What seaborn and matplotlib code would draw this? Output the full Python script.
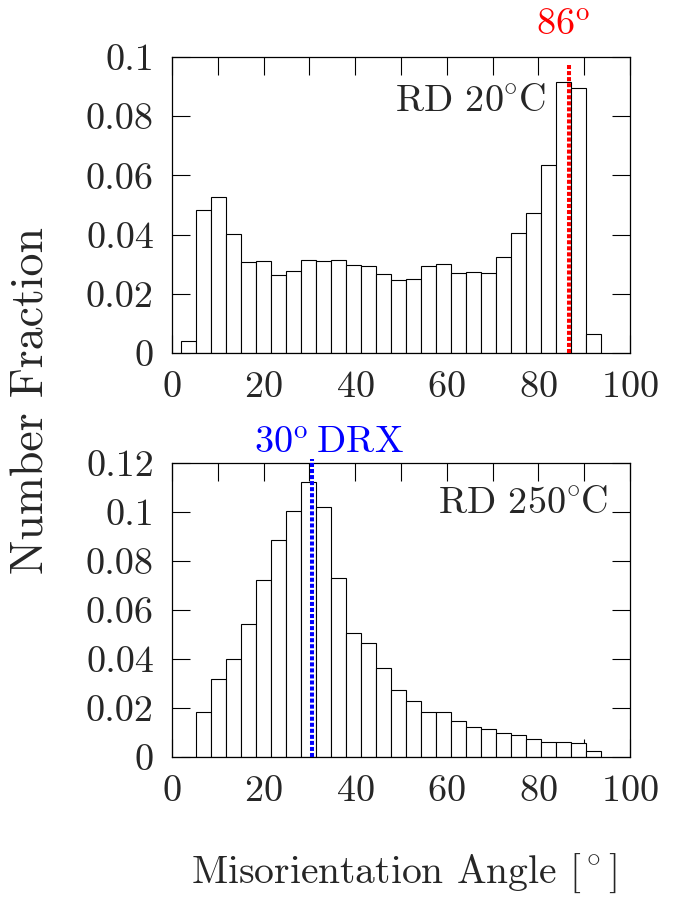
import numpy as np
import pandas as pd
import matplotlib
matplotlib.use("Agg")
import matplotlib.pyplot as plt
import seaborn as sns

# ---- data ----
BIN_START = 1.9
BIN_WIDTH = 3.28
N_BINS = 28

rd20_fraction = [0.0042, 0.0483, 0.0528, 0.0401, 0.0307, 0.0310, 0.0263, 0.0277,
                 0.0313, 0.0311, 0.0313, 0.0297, 0.0293, 0.0266, 0.0246, 0.0251,
                 0.0293, 0.0300, 0.0269, 0.0273, 0.0269, 0.0324, 0.0405, 0.0472,
                 0.0635, 0.0916, 0.0895, 0.0065]
rd250_fraction = [0.0, 0.0182, 0.0318, 0.0399, 0.0543, 0.0721, 0.0886, 0.1003,
                  0.1122, 0.1019, 0.0731, 0.0507, 0.0466, 0.0363, 0.0273, 0.0227,
                  0.0182, 0.0182, 0.0147, 0.0122, 0.0114, 0.0096, 0.0088, 0.0072,
                  0.0060, 0.0060, 0.0056, 0.0023]

x_ticks = [0, 20, 40, 60, 80, 100]
y_ticks_top = [0, 0.02, 0.04, 0.06, 0.08, 0.1]
y_ticks_bot = [0, 0.02, 0.04, 0.06, 0.08, 0.1, 0.12]
y_tick_labels_top = ["0", "0.02", "0.04", "0.06", "0.08", "0.1"]
y_tick_labels_bot = ["0", "0.02", "0.04", "0.06", "0.08", "0.1", "0.12"]

peak_top = 86.7
peak_bot = 30.6
label_top = "RD 20$\\!^\\circ\\!$C"
label_bot = "RD 250$\\!^\\circ\\!$C"
mark_top = "86$^{\\rm o}$"
mark_bot = "30$^{\\rm o}\\!$ DRX"
xlabel = "Misorientation Angle [$^\\circ$]"
ylabel = "Number Fraction"

# ---- style ----
sns.set_style("ticks")
plt.rcParams["font.family"] = ["cmr10", "DejaVu Serif"]
plt.rcParams["mathtext.fontset"] = "cm"
plt.rcParams["axes.formatter.use_mathtext"] = True
plt.rcParams["axes.unicode_minus"] = False

edges = BIN_START + BIN_WIDTH * np.arange(N_BINS + 1)
centers = 0.5 * (edges[:-1] + edges[1:])
df = pd.DataFrame({"angle": centers, "rd20": rd20_fraction, "rd250": rd250_fraction})

fig = plt.figure(figsize=(6.74, 9.01), dpi=100)
ax1 = fig.add_axes([0.2552, 0.6082, 0.6795, 0.3285])
ax2 = fig.add_axes([0.2552, 0.1598, 0.6795, 0.3266])

FS = 27.5
FS_XLAB = 28.5
FS_YLAB = 33

def style_axis(ax, yticks, ylabels, ymax):
    ax.set_xlim(0, 100)
    ax.set_ylim(0, ymax)
    ax.set_xticks(x_ticks)
    ax.set_xticks([10, 30, 50, 70, 90], minor=True)
    ax.set_yticks(yticks)
    ax.set_yticklabels(ylabels)
    ax.tick_params(which="both", direction="in", top=True, right=True,
                   length=13, width=0.8, labelsize=FS, pad=13, color="black")
    for s in ax.spines.values():
        s.set_linewidth(0.9)
        s.set_color("black")
    ax.set_xlabel("")
    ax.set_ylabel("")

for ax, col in [(ax1, "rd20"), (ax2, "rd250")]:
    sns.histplot(data=df, x="angle", weights=col,
                 binwidth=BIN_WIDTH, binrange=(float(edges[0]), float(edges[-1])),
                 ax=ax, stat="count", fill=True, color="white",
                 edgecolor="black", linewidth=0.8, alpha=1.0)

style_axis(ax1, y_ticks_top, y_tick_labels_top, 0.1)
style_axis(ax2, y_ticks_bot, y_tick_labels_bot, 0.12)

ax1.plot([peak_top, peak_top], [0, 0.0975], color="red", lw=2.9,
         linestyle=(0, (1, 0.5)), clip_on=False, zorder=5)
ax2.plot([peak_bot, peak_bot], [0, 0.1215], color="blue", lw=2.9,
         linestyle=(0, (1, 0.5)), clip_on=False, zorder=5)

ax1.text(81.8, 0.0818, label_top, ha="right", va="baseline", fontsize=FS)
ax2.text(95.2, 0.0995, label_bot, ha="right", va="baseline", fontsize=FS)
ax1.text(85.5, 0.1075, mark_top, ha="center", va="baseline", color="red", fontsize=FS)
ax2.text(34.3, 0.124, mark_bot, ha="center", va="baseline", color="blue", fontsize=FS)

fig.text(0.599, 0.031, xlabel, ha="center", va="center", fontsize=FS_XLAB)
fig.text(0.047, 0.555, ylabel, ha="center", va="center", rotation=90, fontsize=FS_YLAB)

fig.savefig("out.png", dpi=100)
